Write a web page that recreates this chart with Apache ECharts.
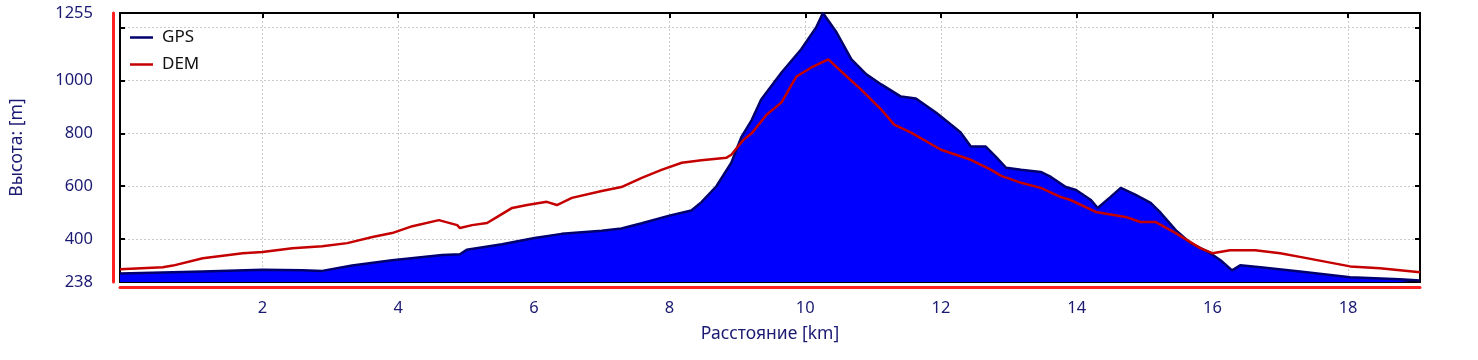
<!DOCTYPE html>
<html>
<head>
<meta charset="utf-8">
<script src="https://cdn.jsdelivr.net/npm/echarts@6/dist/echarts.min.js"></script>
<style>
  html, body { margin: 0; padding: 0; background: #fff; }
  #chart { width: 1478px; height: 360px; }
</style>
</head>
<body>
<div id="chart"></div>
<script>
// distance [km] / height [m]
var gpsKm = [-0.10, 0.53, 1.12, 2.00, 2.59, 2.88, 3.32, 3.91, 4.65, 4.91, 5.01, 5.53, 6.01, 6.41, 7.00, 7.29, 7.59, 8.01, 8.32, 8.47, 8.69, 8.91, 9.06, 9.21, 9.35, 9.65, 9.94, 10.16, 10.26, 10.46, 10.68, 10.90, 11.12, 11.41, 11.63, 11.93, 12.15, 12.29, 12.44, 12.66, 12.81, 12.96, 13.18, 13.47, 13.62, 13.84, 13.99, 14.21, 14.31, 14.50, 14.65, 14.87, 15.09, 15.24, 15.46, 15.68, 15.97, 16.12, 16.29, 16.41, 16.71, 17.29, 18.03, 18.76, 19.06];
var gpsH = [270, 274, 278, 284, 282, 280, 300, 320, 340, 343, 360, 381, 404, 420, 432, 440, 460, 490, 508, 540, 600, 689, 787, 850, 928, 1030, 1118, 1200, 1255, 1182, 1080, 1023, 985, 939, 932, 878, 833, 803, 750, 750, 711, 670, 662, 654, 635, 597, 586, 548, 518, 560, 594, 567, 537, 499, 434, 385, 347, 320, 282, 301, 294, 278, 256, 248, 244];

var demKm = [-0.10, 0.53, 0.68, 1.12, 1.71, 2.00, 2.44, 2.88, 3.25, 3.62, 3.91, 4.21, 4.60, 4.87, 4.91, 5.09, 5.31, 5.46, 5.68, 5.90, 6.19, 6.34, 6.56, 7.00, 7.29, 7.59, 7.88, 8.18, 8.47, 8.84, 8.91, 9.09, 9.21, 9.43, 9.65, 9.87, 10.09, 10.34, 10.53, 10.82, 11.12, 11.31, 11.56, 12.00, 12.44, 12.74, 12.88, 13.18, 13.47, 13.76, 13.91, 14.28, 14.72, 14.94, 15.16, 15.46, 15.82, 16.00, 16.26, 16.63, 17.00, 17.29, 18.03, 18.47, 19.06];
var demH = [286, 294, 300, 328, 347, 351, 366, 373, 385, 408, 423, 449, 472, 453, 442, 453, 461, 484, 518, 529, 541, 529, 556, 582, 597, 632, 662, 689, 698, 708, 719, 776, 800, 870, 917, 1015, 1049, 1080, 1034, 966, 890, 833, 803, 738, 700, 662, 640, 613, 594, 560, 548, 503, 484, 465, 465, 423, 366, 347, 358, 358, 347, 333, 297, 290, 275];

var xTicks = [2, 4, 6, 8, 10, 12, 14, 16, 18];
var yTicks = [400, 600, 800, 1000, 1200];
var yLabels = [238, 400, 600, 800, 1000, 1255];

function pairs(xs, ys) {
  var out = [];
  for (var i = 0; i < xs.length; i++) out.push([xs[i], ys[i]]);
  return out;
}

var navy = '#1a1a72';
var xMin = -0.1, xMax = 19.06, yMin = 238, yMax = 1255;
var lineIcon = 'path://M0,0H23V2.5H0Z';

var option = {
  backgroundColor: '#fff',
  animation: false,
  textStyle: { fontFamily: 'Noto Sans' },
  grid: {
    left: 117, right: 58, top: 13, bottom: 78,
    show: true, borderColor: '#000', borderWidth: 2, backgroundColor: '#fff'
  },
  legend: {
    left: 125, top: 24, orient: 'vertical',
    itemWidth: 23, itemHeight: 14, itemGap: 10,
    textStyle: { color: '#111', fontSize: 17, fontFamily: 'Noto Sans', padding: [0, 0, 5, 4] },
    data: [
      { name: 'GPS', icon: lineIcon, itemStyle: { color: '#00006e' } },
      { name: 'DEM', icon: lineIcon, itemStyle: { color: '#c40000' } }
    ]
  },
  xAxis: [
    {
      type: 'value', min: xMin, max: xMax, position: 'bottom',
      axisLine: { show: false, onZero: false },
      axisTick: { show: true, inside: true, length: 5, customValues: xTicks, lineStyle: { color: '#000', width: 2 } },
      axisLabel: { customValues: xTicks, color: navy, fontSize: 16.5, margin: 18, formatter: function (v) { return String(v); } },
      splitLine: { show: true, lineStyle: { color: '#cccccc', type: [2, 2], width: 1 } },
      name: 'Расстояние [km]', nameLocation: 'middle', nameGap: 43,
      nameTextStyle: { color: navy, fontSize: 17.5 }
    },
    {
      type: 'value', min: xMin, max: xMax, position: 'bottom', offset: 5,
      axisLine: { show: true, onZero: false, lineStyle: { color: '#ff2020', width: 3 } },
      axisTick: { show: false }, axisLabel: { show: false }, splitLine: { show: false }
    },
    {
      type: 'value', min: xMin, max: xMax, position: 'top',
      axisLine: { show: false, onZero: false },
      axisTick: { show: true, inside: true, length: 5, customValues: xTicks, lineStyle: { color: '#000', width: 2 } },
      axisLabel: { show: false }, splitLine: { show: false }
    }
  ],
  yAxis: [
    {
      type: 'value', min: yMin, max: yMax, position: 'left',
      axisLine: { show: false, onZero: false },
      axisTick: { show: true, inside: true, length: 5, customValues: yTicks, lineStyle: { color: '#000', width: 2 } },
      axisLabel: { customValues: yLabels, color: navy, fontSize: 16.5, margin: 27, formatter: function (v) { return String(v); } },
      splitLine: { show: true, lineStyle: { color: '#cccccc', type: [2, 2], width: 1 } },
      name: 'Высота: [m]', nameLocation: 'middle', nameGap: 94,
      nameTextStyle: { color: navy, fontSize: 17.5 }
    },
    {
      type: 'value', min: yMin, max: yMax, position: 'left', offset: 7,
      axisLine: { show: true, onZero: false, lineStyle: { color: '#ff2020', width: 3 } },
      axisTick: { show: false }, axisLabel: { show: false }, splitLine: { show: false }
    },
    {
      type: 'value', min: yMin, max: yMax, position: 'right',
      axisLine: { show: false, onZero: false },
      axisTick: { show: true, inside: true, length: 5, customValues: yTicks, lineStyle: { color: '#000', width: 2 } },
      axisLabel: { show: false }, splitLine: { show: false }
    }
  ],
  series: [
    {
      name: 'GPS', type: 'line', xAxisIndex: 0, yAxisIndex: 0,
      data: pairs(gpsKm, gpsH),
      symbol: 'none',
      lineStyle: { color: '#00006e', width: 2.5 },
      itemStyle: { color: '#00006e' },
      areaStyle: { color: '#0000ff', opacity: 1, origin: 'start' }
    },
    {
      name: 'DEM', type: 'line', xAxisIndex: 0, yAxisIndex: 0,
      data: pairs(demKm, demH),
      symbol: 'none',
      lineStyle: { color: '#c40000', width: 2.5 },
      itemStyle: { color: '#c40000' }
    }
  ]
};

var chart = echarts.init(document.getElementById('chart'));
chart.setOption(option);
</script>
</body>
</html>
